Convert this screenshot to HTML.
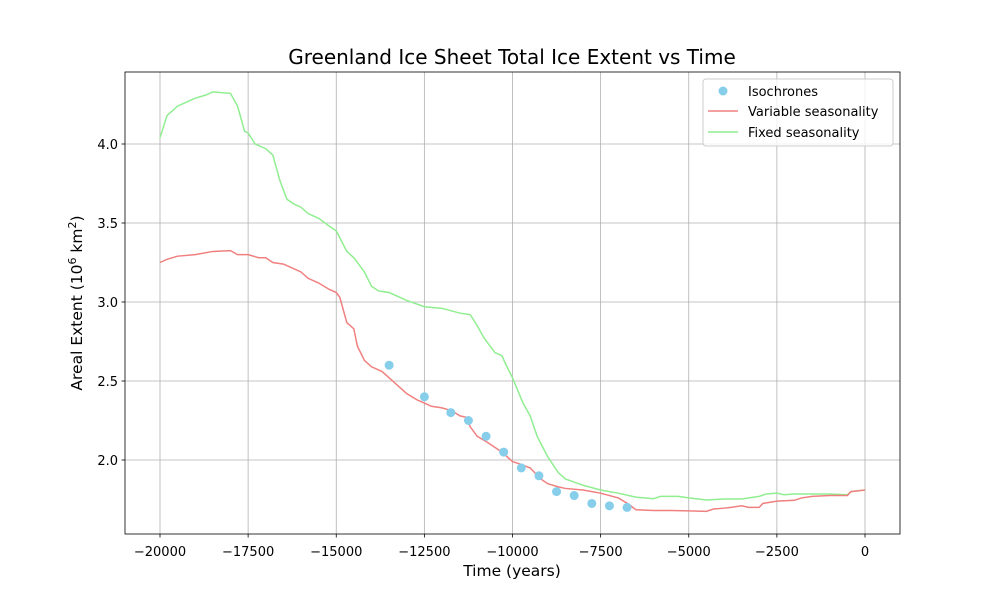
<!DOCTYPE html>
<html><head><meta charset="utf-8"><style>
body{margin:0;background:#fff;font-family:"Liberation Sans","DejaVu Sans",sans-serif}
svg text{font-family:"DejaVu Sans","Liberation Sans",sans-serif}
</style></head><body>
<svg id="chart" width="1000" height="600"></svg>
<script>
const isoYears=[-13500,-12500,-11750,-11250,-10750,-10250,-9750,-9250,-8750,-8250,-7750,-7250,-6750];
const isoValues=[2.6,2.4,2.3,2.25,2.15,2.05,1.95,1.9,1.8,1.775,1.725,1.71,1.7];
const greenYears=[-20000,-19800,-19500,-19000,-18700,-18500,-18000,-17800,-17600,-17500,-17300,-17000,-16800,-16600,-16400,-16200,-16000,-15800,-15500,-15200,-15000,-14700,-14500,-14200,-14000,-13800,-13500,-13000,-12500,-12000,-11500,-11200,-11000,-10800,-10500,-10300,-10200,-10000,-9700,-9500,-9300,-9000,-8700,-8500,-8000,-7500,-7000,-6500,-6000,-5800,-5300,-5000,-4500,-4000,-3500,-3000,-2800,-2500,-2300,-2000,-1000,-500,-400,0];
const greenValues=[4.04,4.18,4.24,4.29,4.31,4.33,4.32,4.24,4.08,4.07,4.0,3.97,3.93,3.77,3.65,3.62,3.6,3.56,3.53,3.48,3.45,3.32,3.28,3.19,3.1,3.07,3.06,3.01,2.97,2.96,2.93,2.92,2.85,2.77,2.68,2.66,2.61,2.52,2.36,2.28,2.15,2.02,1.92,1.88,1.84,1.81,1.79,1.765,1.755,1.77,1.77,1.76,1.747,1.753,1.753,1.77,1.785,1.79,1.78,1.785,1.785,1.78,1.8,1.81];
const redYears=[-20000,-19800,-19500,-19000,-18500,-18000,-17800,-17500,-17200,-17000,-16800,-16500,-16300,-16000,-15800,-15500,-15200,-15000,-14900,-14700,-14500,-14400,-14200,-14000,-13700,-13500,-13200,-13000,-12700,-12500,-12300,-12000,-11700,-11500,-11300,-11200,-11000,-10700,-10500,-10300,-10000,-9800,-9500,-9200,-9000,-8700,-8500,-8000,-7500,-7000,-6700,-6500,-6000,-5500,-5000,-4500,-4300,-4000,-3800,-3500,-3300,-3000,-2900,-2500,-2000,-1800,-1500,-1000,-500,-400,0];
const redValues=[3.25,3.27,3.29,3.3,3.32,3.325,3.3,3.3,3.28,3.28,3.25,3.24,3.22,3.19,3.15,3.12,3.08,3.06,3.03,2.87,2.83,2.72,2.63,2.59,2.56,2.52,2.46,2.42,2.38,2.36,2.34,2.33,2.31,2.28,2.27,2.21,2.15,2.11,2.08,2.05,1.99,1.975,1.95,1.88,1.85,1.83,1.82,1.81,1.79,1.76,1.72,1.685,1.68,1.68,1.678,1.675,1.69,1.695,1.7,1.71,1.7,1.7,1.725,1.74,1.745,1.76,1.77,1.775,1.775,1.8,1.81];
const xTicks=[-20000,-17500,-15000,-12500,-10000,-7500,-5000,-2500,0];
const xTickLabels=["\u221220000","\u221217500","\u221215000","\u221212500","\u221210000","\u22127500","\u22125000","\u22122500","0"];
const yTicks=[2.0,2.5,3.0,3.5,4.0];
const yTickLabels=["2.0","2.5","3.0","3.5","4.0"];

const L=125,R=900,T=72,B=534;
const X=v=>160+(v+20000)*705/20000;
const Y=v=>144-(v-4.0)*158;
const svg=document.getElementById('chart');
const NS='http://www.w3.org/2000/svg';
function mk(tag,attrs,parent){const e=document.createElementNS(NS,tag);for(const k in attrs)e.setAttribute(k,attrs[k]);(parent||svg).appendChild(e);return e;}

xTicks.forEach((t,i)=>{
  const g=mk('line',{x1:X(t),x2:X(t),y1:T,y2:B,stroke:'#b0b0b0','stroke-width':0.8});
  
  
  mk('line',{x1:X(t),x2:X(t),y1:B,y2:B+3.5,stroke:'#000','stroke-width':0.8});
  const tx=mk('text',{x:X(t),y:B+22,'text-anchor':'middle','font-size':13});
  tx.textContent=xTickLabels[i];
  
  
});
yTicks.forEach((t,i)=>{
  const g=mk('line',{x1:L,x2:R,y1:Y(t),y2:Y(t),stroke:'#b0b0b0','stroke-width':0.8});
  
  
  mk('line',{x1:L-3.5,x2:L,y1:Y(t),y2:Y(t),stroke:'#000','stroke-width':0.8});
  const tx=mk('text',{x:L-7,y:Y(t)+5,'text-anchor':'end','font-size':13});
  tx.textContent=yTickLabels[i];
  
  
});

function line(xs,ys,color,name){
  const p=mk('polyline',{points:xs.map((x,i)=>X(x)+','+Y(ys[i])).join(' '),fill:'none',stroke:color,'stroke-width':1.5});
  
  
}
line(greenYears,greenValues,'#90ee90','fixed-seasonality-line');
line(redYears,redValues,'#f08080','variable-seasonality-line');
isoYears.forEach((x,i)=>{
  const c=mk('circle',{cx:X(x),cy:Y(isoValues[i]),r:4.5,fill:'#87ceeb'});
  
  
});

const frame=mk('rect',{x:L,y:T,width:R-L,height:B-T,fill:'none',stroke:'#000','stroke-width':0.8});



const title=mk('text',{x:512,y:64,'text-anchor':'middle','font-size':20});
title.textContent='Greenland Ice Sheet Total Ice Extent vs Time';


const xl=mk('text',{x:512,y:576,'text-anchor':'middle','font-size':15.5});
xl.textContent='Time (years)';


const yl=mk('text',{x:0,y:0,'text-anchor':'middle','font-size':15.5,transform:'translate(82,303) rotate(-90)'});
yl.innerHTML='Areal Extent (10<tspan dy="-6" font-size="11">6</tspan><tspan dy="6"> km</tspan><tspan dy="-6" font-size="11">2</tspan><tspan dy="6">)</tspan>';



const lg=mk('g',{});


mk('rect',{x:703,y:79,width:190,height:67,rx:3,fill:'#fff','fill-opacity':0.8,stroke:'#ccc','stroke-width':1},lg);
mk('circle',{cx:723,cy:91,r:4.5,fill:'#87ceeb'},lg);
mk('line',{x1:708,x2:738,y1:111,y2:111,stroke:'#f08080','stroke-width':1.5},lg);
mk('line',{x1:708,x2:738,y1:132,y2:132,stroke:'#90ee90','stroke-width':1.5},lg);
[['Isochrones',96,'legend-entry-isochrones'],['Variable seasonality',116,'legend-entry-variable'],['Fixed seasonality',137,'legend-entry-fixed']].forEach(d=>{
  const t=mk('text',{x:748,y:d[1],'font-size':13},lg);
  t.textContent=d[0];
  
  
});
</script>
</body></html>
